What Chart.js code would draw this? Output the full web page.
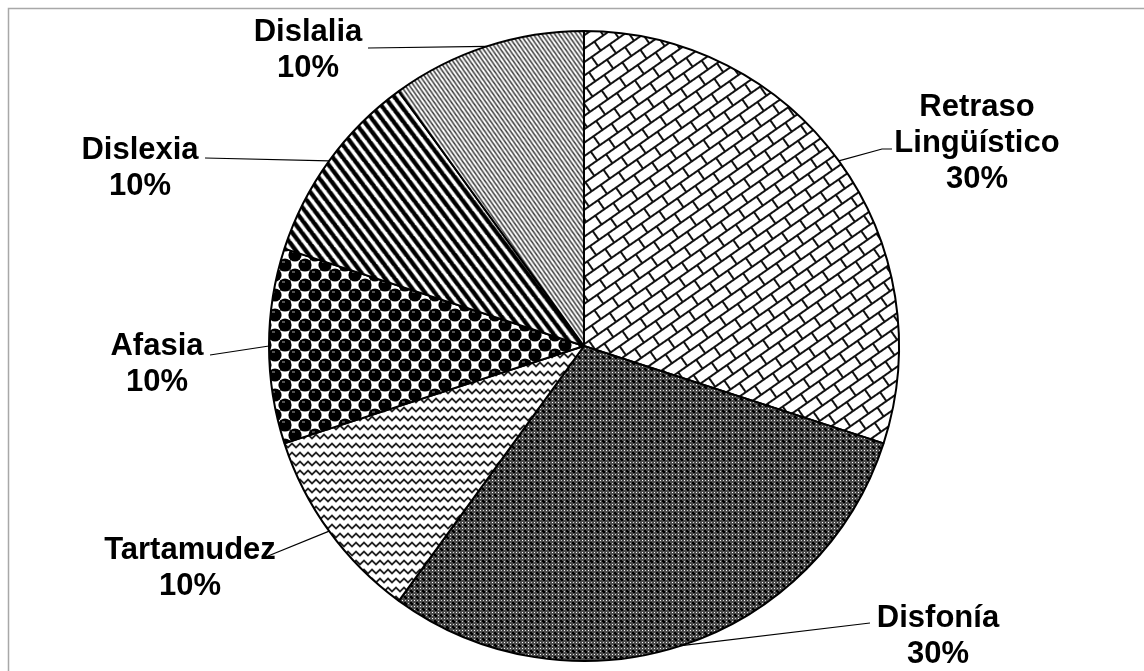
<!DOCTYPE html>
<html>
<head>
<meta charset="utf-8">
<script src="https://cdn.jsdelivr.net/npm/chart.js@4/dist/chart.umd.min.js"></script>
<style>
  html, body { margin: 0; padding: 0; background: #fff; }
  #wrap { width: 1144px; height: 671px; }
</style>
</head>
<body>
<div id="wrap"><canvas id="c" width="1144" height="671"></canvas></div>
<script>
// ---- data ----
const categories = [['Retraso', 'Lingüístico'], ['Disfonía'], ['Tartamudez'], ['Afasia'], ['Dislexia'], ['Dislalia']];
const values = [30, 30, 10, 10, 10, 10];

// ---- label layout (text centre x, cap-centre y of first line, leader points after the slice edge) ----
const labelLayout = [
  { x: 977, y: 105, leader: [[882, 149], [892, 149]] },
  { x: 938, y: 616, leader: [[870, 623]] },
  { x: 190, y: 548, leader: [[268, 556]] },
  { x: 157, y: 344, leader: [[210, 355]] },
  { x: 140, y: 148, leader: [[205, 158]] },
  { x: 308, y: 30,  leader: [[368, 48]] }
];

// ---- fill patterns ----
function tile(w, h, draw) {
  const c = document.createElement('canvas');
  c.width = w; c.height = h;
  const g = c.getContext('2d');
  g.fillStyle = '#fff'; g.fillRect(0, 0, w, h);
  draw(g, w, h);
  return c;
}
const pctx = document.getElementById('c').getContext('2d');

function bricks() {
  const t = tile(22, 22, (g) => {
    g.strokeStyle = '#111'; g.lineWidth = 2;
    g.beginPath();
    g.moveTo(0, 1); g.lineTo(22, 1);
    g.moveTo(0, 12); g.lineTo(22, 12);
    g.moveTo(1, 0); g.lineTo(1, 12);
    g.moveTo(12, 12); g.lineTo(12, 22);
    g.stroke();
  });
  const p = pctx.createPattern(t, 'repeat');
  p.setTransform(new DOMMatrix().rotateSelf(-35));
  return p;
}
function confetti() {
  const t = tile(6, 6, (g) => {
    g.fillStyle = '#4a4a4a'; g.fillRect(0, 0, 6, 6);
    g.fillStyle = '#000';
    g.fillRect(3, 2, 1, 3); g.fillRect(2, 3, 3, 1);
    g.fillRect(2, 2, 1, 1); g.fillRect(4, 4, 1, 1);
    g.fillStyle = '#fff'; g.fillRect(0, 0, 1, 1);
    g.fillStyle = '#d0d0d0'; g.fillRect(3, 0, 1, 1); g.fillRect(0, 3, 1, 1);
  });
  return pctx.createPattern(t, 'repeat');
}
function waves() {
  const t = tile(16, 9, (g) => {
    g.strokeStyle = '#222'; g.lineWidth = 1.8;
    g.beginPath();
    for (let k = -1; k <= 1; k++) {
      const oy = k * 9;
      g.moveTo(-4, oy + 2.5);
      g.lineTo(0, oy + 6.5);
      g.lineTo(4, oy + 2.5);
      g.lineTo(8, oy + 6.5);
      g.lineTo(12, oy + 2.5);
      g.lineTo(16, oy + 6.5);
      g.lineTo(20, oy + 2.5);
    }
    g.stroke();
  });
  return pctx.createPattern(t, 'repeat');
}
function balls() {
  const t = tile(20, 20, (g) => {
    g.fillStyle = '#fff'; g.fillRect(0, 0, 20, 20);
    g.strokeStyle = '#777'; g.lineWidth = 1;
    g.strokeRect(0.5, 0.5, 10, 10);
    g.strokeRect(10.5, 10.5, 10, 10);
    const centres = [[5, 5], [15, 15]];
    for (const [cx, cy] of centres) {
      for (let dx = -20; dx <= 20; dx += 20) for (let dy = -20; dy <= 20; dy += 20) {
        g.fillStyle = '#000';
        g.beginPath(); g.arc(cx + dx, cy + dy, 6.6, 0, Math.PI * 2); g.fill();
        g.fillStyle = '#a0a0a0';
        g.fillRect(cx + dx - 3, cy + dy - 3.5, 3, 1);
      }
    }
  });
  return pctx.createPattern(t, 'repeat');
}
function stripes(size, width, color, angle) {
  const t = tile(size, size, (g) => {
    g.strokeStyle = color; g.lineWidth = width;
    g.beginPath();
    for (let k = -1; k <= 1; k++) {
      g.moveTo(k * size - 1, -1);
      g.lineTo(k * size + size + 1, size + 1);
    }
    g.stroke();
  });
  const p = pctx.createPattern(t, 'repeat');
  if (angle) p.setTransform(new DOMMatrix().rotateSelf(angle));
  return p;
}

const fills = [bricks(), confetti(), waves(), balls(), stripes(11, 4.4, '#000', 8), stripes(5, 1.5, '#333', 10)];

// ---- plugins ----
const frame = {
  id: 'frame',
  beforeDraw(chart) {
    const ctx = chart.ctx;
    ctx.save();
    ctx.strokeStyle = '#a8a8a8'; ctx.lineWidth = 1.5;
    ctx.beginPath();
    ctx.moveTo(8.5, 671); ctx.lineTo(8.5, 8.5); ctx.lineTo(1144, 8.5);
    ctx.stroke();
    ctx.restore();
  }
};

const outerLabels = {
  id: 'outerLabels',
  afterDatasetsDraw(chart) {
    const ctx = chart.ctx;
    const meta = chart.getDatasetMeta(0);
    const data = chart.data.datasets[0].data;
    const total = data.reduce((a, b) => a + b, 0);
    ctx.save();
    meta.data.forEach((arc, i) => {
      const lay = labelLayout[i];
      const mid = (arc.startAngle + arc.endAngle) / 2;
      const sx = arc.x + Math.cos(mid) * arc.outerRadius;
      const sy = arc.y + Math.sin(mid) * arc.outerRadius;
      ctx.strokeStyle = '#000'; ctx.lineWidth = 1.2;
      ctx.beginPath(); ctx.moveTo(sx, sy);
      lay.leader.forEach(([px, py]) => ctx.lineTo(px, py));
      ctx.stroke();

      const lines = [].concat(chart.data.labels[i], Math.round(data[i] / total * 100) + '%');
      ctx.fillStyle = '#000';
      ctx.font = 'bold 31px "Liberation Sans", Arial, sans-serif';
      ctx.textAlign = 'center';
      ctx.textBaseline = 'alphabetic';
      lines.forEach((t, k) => ctx.fillText(t, lay.x, lay.y + 11 + k * 36));
    });
    ctx.restore();
  }
};

new Chart(document.getElementById('c'), {
  type: 'pie',
  data: {
    labels: categories,
    datasets: [{
      data: values,
      backgroundColor: fills,
      borderColor: '#000',
      borderWidth: 2
    }]
  },
  options: {
    responsive: false,
    animation: false,
    devicePixelRatio: 1,
    layout: { padding: { top: 30, bottom: 9, left: 268, right: 244 } },
    plugins: { legend: { display: false }, tooltip: { enabled: false } }
  },
  plugins: [frame, outerLabels]
});
</script>
</body>
</html>
